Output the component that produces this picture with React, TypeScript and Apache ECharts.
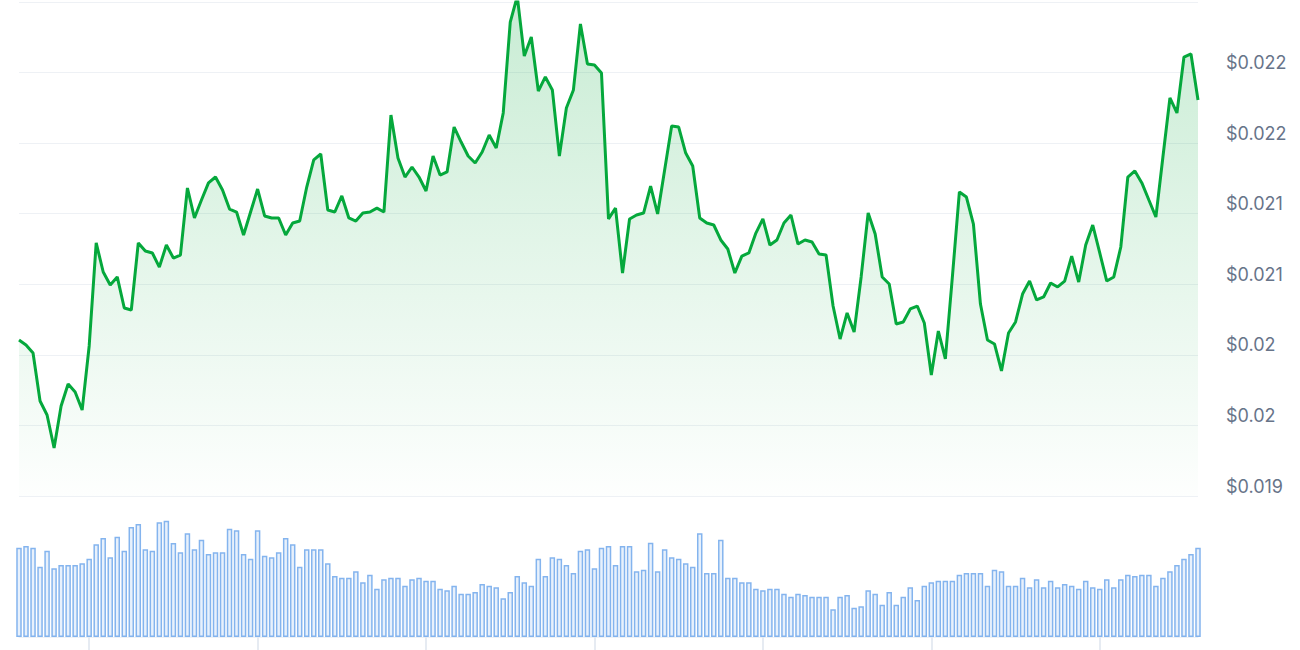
import React, { useEffect, useRef } from "react";
import * as echarts from "echarts";

// Hourly price (USD), 169 points over 7 days
const prices: number[] = [
  0.020105, 0.02007, 0.020013, 0.019673, 0.019574, 0.01934, 0.019638, 0.019794, 0.019737, 0.019609,
  0.020063, 0.020793, 0.020587, 0.020495, 0.020552, 0.020332, 0.020318, 0.020793, 0.020736, 0.020722,
  0.020622, 0.020778, 0.020686, 0.020707, 0.021182, 0.02097, 0.021097, 0.021218, 0.02126, 0.021168,
  0.021033, 0.021012, 0.020849, 0.021012, 0.021175, 0.020984, 0.02097, 0.02097, 0.020849, 0.020934,
  0.020948, 0.021189, 0.021381, 0.021423, 0.021026, 0.021012, 0.021126, 0.02097, 0.020948, 0.021005,
  0.021012, 0.02104, 0.021012, 0.021699, 0.021395, 0.02126, 0.021331, 0.02126, 0.021161, 0.021409,
  0.021274, 0.021296, 0.021614, 0.021508, 0.021409, 0.021359, 0.021437, 0.021558, 0.021466, 0.021714,
  0.022358, 0.02254, 0.022117, 0.022252, 0.021869, 0.021969, 0.021877, 0.021409, 0.021749, 0.021877,
  0.022344, 0.022061, 0.022054, 0.021997, 0.020963, 0.02104, 0.02058, 0.020963, 0.020991, 0.021005,
  0.021196, 0.020998, 0.02131, 0.021621, 0.021614, 0.02143, 0.021338, 0.02097, 0.020934, 0.02092,
  0.020814, 0.02075, 0.02058, 0.0207, 0.020722, 0.020863, 0.020963, 0.020778, 0.020814, 0.020934,
  0.020991, 0.020785, 0.020814, 0.0208, 0.020715, 0.020707, 0.020346, 0.020112, 0.020297, 0.020162,
  0.020552, 0.021005, 0.020856, 0.020552, 0.020502, 0.020219, 0.020233, 0.020325, 0.020346, 0.020226,
  0.019857, 0.020169, 0.019971, 0.020552, 0.021154, 0.021118, 0.020927, 0.02036, 0.020105, 0.020077,
  0.019886, 0.020155, 0.020233, 0.020431, 0.020523, 0.020389, 0.02041, 0.020509, 0.020481, 0.020523,
  0.0207, 0.020516, 0.020778, 0.02092, 0.020722, 0.020523, 0.020552, 0.020764, 0.02126, 0.021303,
  0.021218, 0.021097, 0.020977, 0.021402, 0.02182, 0.021714, 0.02211, 0.022132, 0.021806,
];

// Hourly volume (arbitrary units)
const volumes: number[] = [
  893, 910, 893, 703, 863, 687, 720, 720, 720, 737,
  783, 927, 990, 797, 1003, 863, 1100, 1130, 877, 863,
  1147, 1163, 940, 847, 1037, 877, 973, 830, 847, 847,
  1083, 1067, 830, 783, 1067, 813, 797, 847, 990, 927,
  703, 877, 877, 877, 737, 610, 593, 593, 657, 547,
  623, 483, 577, 593, 593, 513, 577, 593, 563, 563,
  483, 467, 513, 433, 433, 450, 530, 513, 497, 387,
  450, 610, 547, 513, 783, 610, 797, 783, 720, 640,
  863, 877, 687, 893, 910, 720, 910, 910, 657, 673,
  943, 657, 877, 797, 783, 737, 703, 1037, 640, 640,
  973, 593, 593, 547, 547, 483, 467, 483, 483, 433,
  403, 433, 420, 403, 403, 403, 277, 403, 420, 293,
  307, 467, 433, 323, 450, 323, 403, 497, 370, 513,
  547, 563, 563, 563, 623, 640, 640, 640, 513, 673,
  657, 513, 513, 593, 497, 577, 497, 563, 497, 530,
  513, 483, 563, 497, 483, 577, 497, 577, 623, 610,
  623, 623, 513, 593, 657, 720, 783, 830, 893,
];

// Y-axis tick labels, bottom to top (0.0190 .. 0.0225, step 0.0005)
const priceTickValues: number[] = [0.019, 0.0195, 0.02, 0.0205, 0.021, 0.0215, 0.022, 0.0225];
const priceTickLabels: string[] = ["$0.019", "$0.02", "$0.02", "$0.021", "$0.021", "$0.022", "$0.022", ""];

// Hour categories
const hours: string[] = prices.map((_, i) => `h${i}`);
const dayTickStart = 10;
const hoursPerDay = 24;

export default function App() {
  const ref = useRef<HTMLDivElement>(null);

  useEffect(() => {
    if (!ref.current) return;
    const chart = echarts.init(ref.current, undefined, { renderer: "svg" });
    const left = 19;
    const right = 102;
    chart.setOption({
      animation: false,
      grid: [
        { left, right, top: 2, height: 494 },
        { left, right, top: 510, height: 127 },
      ],
      xAxis: [
        {
          type: "category",
          gridIndex: 0,
          data: hours,
          boundaryGap: false,
          show: false,
        },
        {
          type: "category",
          gridIndex: 1,
          data: hours,
          boundaryGap: false,
          axisLine: { show: true, lineStyle: { color: "#edf1f6", width: 1 } },
          axisTick: {
            show: true,
            length: 13,
            lineStyle: { color: "#e6ebf2", width: 2 },
            interval: (i: number) => i >= dayTickStart && (i - dayTickStart) % hoursPerDay === 0,
          },
          axisLabel: { show: false },
          splitLine: { show: false },
        },
      ],
      yAxis: [
        {
          type: "value",
          gridIndex: 0,
          position: "right",
          min: 0.019,
          max: 0.0225,
          interval: 0.0005,
          axisLine: { show: false },
          axisTick: { show: false },
          splitLine: { show: true, lineStyle: { color: "#eef1f5", width: 1 } },
          axisLabel: {
            show: true,
            margin: 28,
            color: "#677489",
            fontSize: 18,
            fontFamily: "Inter, 'Noto Sans', sans-serif",
            verticalAlign: "bottom",
            lineHeight: 20,
            padding: [0, 0, 0, 0],
            formatter: (v: number) => {
              const idx = priceTickValues.findIndex((t) => Math.abs(t - v) < 1e-7);
              return idx >= 0 ? priceTickLabels[idx] : "";
            },
          },
        },
        {
          type: "value",
          gridIndex: 1,
          min: 0,
          max: 1270,
          show: false,
          splitLine: { show: false },
        },
      ],
      series: [
        {
          type: "line",
          xAxisIndex: 0,
          yAxisIndex: 0,
          data: prices,
          symbol: "none",
          lineStyle: { color: "#05a83c", width: 3 },
          itemStyle: { color: "#05a83c" },
          areaStyle: {
            color: new echarts.graphic.LinearGradient(0, 0, 0, 1, [
              { offset: 0, color: "rgba(10,170,62,0.32)" },
              { offset: 1, color: "rgba(10,170,62,0.01)" },
            ]),
          },
        },
        {
          type: "bar",
          xAxisIndex: 1,
          yAxisIndex: 1,
          data: volumes,
          barWidth: 5.5,
          itemStyle: {
            color: "#e8f1fc",
            borderColor: "#84b4ee",
            borderWidth: 1.5,
          },
        },
      ],
    });
    return () => chart.dispose();
  }, []);

  return (
    <div
      ref={ref}
      style={{ position: "fixed", left: 0, top: 0, width: 1300, height: 650, background: "#fff" }}
    />
  );
}
